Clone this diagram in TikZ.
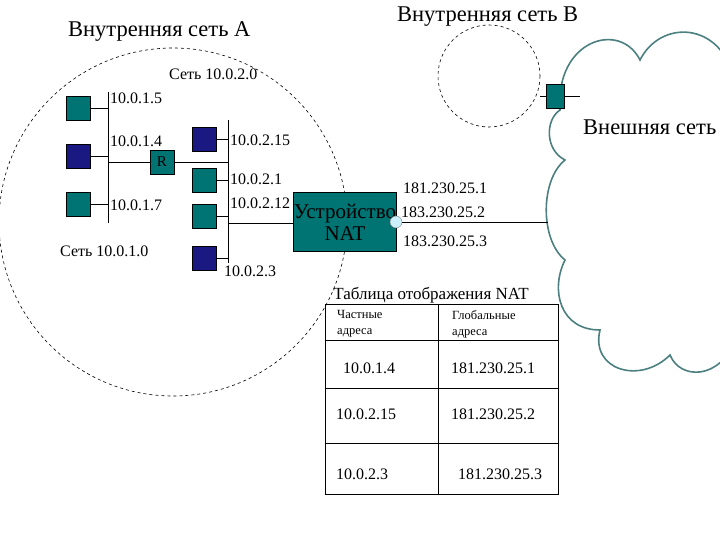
\documentclass[tikz,border=0pt]{standalone}
\usepackage{fontspec}
\setmainfont{Liberation Serif}
\begin{document}
\begin{tikzpicture}[x=1pt,y=-1pt,
  lbl/.style={anchor=west,inner sep=0pt,font=\fontsize{16}{16}\selectfont},
  ttl/.style={anchor=west,inner sep=0pt,font=\fontsize{22.5}{22}\selectfont},
  sml/.style={anchor=north west,inner sep=0pt,align=left,font=\fontsize{12.5}{16}\selectfont},
  tsq/.style={draw=black,fill=teal!90!black,minimum size=24pt,inner sep=0pt},
  bsq/.style={draw=black,fill=blue!45!black!90,minimum size=24pt,inner sep=0pt},
  ln/.style={draw=black,line width=0.8pt}]
\useasboundingbox (0,0) rectangle (720,540);
\clip (0,0) rectangle (720,540);
% network outlines
\draw[dashed,line width=0.6pt] (173,222) circle [radius=174];
\draw[dashed,line width=0.6pt] (489,76) circle [radius=51];
% cloud
\draw[color=gray!60!teal,line width=1.6pt,fill=white]
 (560,110) .. controls (555,40) and (620,20) .. (640,60)
 .. controls (660,20) and (720,20) .. (735,80)
 -- (735,340)
 .. controls (720,380) and (680,380) .. (670,355)
 .. controls (640,385) and (590,370) .. (600,330)
 .. controls (560,330) and (550,290) .. (565,260)
 .. controls (540,240) and (540,180) .. (565,160)
 .. controls (545,150) and (545,120) .. (560,110) -- cycle;
\node[ttl] (ext) at (583,127) {Внешняя сеть};
\node[ttl] (tA) at (68,32) {Внутренняя сеть А};
\node[ttl] (tB) at (397,17) {Внутренняя сеть В};
% router B
\node[tsq,minimum width=18pt] (rb) at (555,96) {};
\coordinate (cb) at (540,96);
\coordinate (cc) at (580,96);
\draw[ln] (cb) -- (rb) -- (cc);
% left network
\node[lbl] (n20) at (169,74) {Сеть 10.0.2.0};
\node[lbl] (n10) at (60,251) {Сеть 10.0.1.0};
\coordinate (lb1) at (108,92); \coordinate (lb2) at (108,223);
\draw[ln] (lb1) -- (lb2);
\node[tsq] (a1) at (78,108) {};
\node[bsq] (a2) at (78,156) {};
\node[tsq] (a3) at (78,204) {};
\draw[ln] (a1) -- (a1 -| lb1); \draw[ln] (a2) -- (a2 -| lb1); \draw[ln] (a3) -- (a3 -| lb1);
\node[lbl] (la1) at (110,98) {10.0.1.5};
\node[lbl] (la2) at (110,141) {10.0.1.4};
\node[lbl] (la3) at (110,205) {10.0.1.7};
\node[tsq,minimum size=24pt,font=\fontsize{15}{15}\selectfont] (R) at (162,162) {R};
\coordinate (rb1) at (228,120); \coordinate (rb2) at (228,263);
\draw[ln] (rb1) -- (rb2);
\draw[ln] (R -| lb1) -- (R) -- (R -| rb1);
\node[bsq] (b1) at (204,139) {};
\node[tsq] (b2) at (204,180) {};
\node[tsq] (b3) at (204,216) {};
\node[bsq] (b4) at (204,258) {};
\foreach \b in {b1,b2,b3,b4} \draw[ln] (\b) -- (\b -| rb1);
\node[lbl] (lb1t) at (230,140) {10.0.2.15};
\node[lbl] (lb2t) at (230,179) {10.0.2.1};
\node[lbl] (lb3t) at (230,203) {10.0.2.12};
\node[lbl] (lb4t) at (224,271) {10.0.2.3};
% NAT
\node[draw=black,fill=teal!90!black,minimum width=103pt,minimum height=59pt,inner sep=0pt,align=center,
  font=\fontsize{21}{22}\selectfont] (nat) at (345,222) {Устройство\\NAT};
\coordinate (natL) at (228,223);
\draw[ln] (natL) -- (natL -| nat.west);
\node[circle,draw=gray,fill=cyan!20,minimum size=12pt,inner sep=0pt] (port) at (396,222) {};
\coordinate (cl) at (548,222);
\draw[ln] (port) -- (cl);
\node[lbl] (g1) at (403,188) {181.230.25.1};
\node[lbl] (g2) at (401,212) {183.230.25.2};
\node[lbl] (g3) at (403,241) {183.230.25.3};
% table
\node[anchor=south,inner sep=0pt,font=\fontsize{17}{17}\selectfont] (tt) at (431,303) {Таблица отображения NAT};
\draw[line width=0.8pt] (325,304) rectangle (558,494);
\draw[line width=0.8pt] (438,304) -- (438,494);
\foreach \yy in {340,388,443} \draw[line width=0.8pt] (325,\yy) -- (558,\yy);
\node[sml] (h1) at (337,310) {Частные\\адреса};
\node[sml] (h2) at (452,310) {Глобальные\\адреса};
\node[lbl] (r1a) at (343,368) {10.0.1.4};
\node[lbl] (r1b) at (451,368) {181.230.25.1};
\node[lbl] (r2a) at (336,414) {10.0.2.15};
\node[lbl] (r2b) at (451,414) {181.230.25.2};
\node[lbl] (r3a) at (336,474) {10.0.2.3};
\node[lbl] (r3b) at (458,474) {181.230.25.3};
\end{tikzpicture}
\end{document}
